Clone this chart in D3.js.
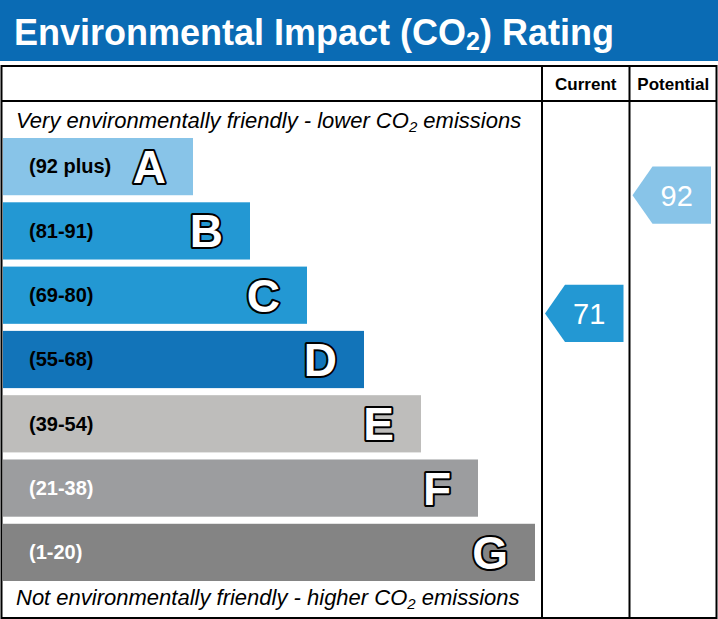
<!DOCTYPE html>
<head>
<title>Environmental Impact (CO2) Rating</title>
<meta charset="utf-8">
<style>
body { margin: 0; background: #fff; }
svg text { font-family: "Liberation Sans", Arial, sans-serif; }
.title { font-size: 36px; font-weight: bold; fill: #fff; }
.colhead { font-size: 17px; font-weight: bold; fill: #000; }
.note { font-size: 22px; font-style: italic; fill: #000; }
.range { font-size: 20px; font-weight: bold; }
.letter { font-size: 46px; font-weight: bold; fill: #fff; stroke: #000; stroke-width: 4px; paint-order: stroke; stroke-linejoin: round; }
.score { font-size: 29px; fill: #fff; }
.frame { fill: none; stroke: #000; stroke-width: 2px; }
</style>
</head>
<body>
<svg width="718" height="619"></svg>
<script src="https://cdn.jsdelivr.net/npm/d3@7"></script>
<script>
// rating bands, top (best) to bottom (worst)
const bands = ["A", "B", "C", "D", "E", "F", "G"];
const rangeLabels = ["(92 plus)", "(81-91)", "(69-80)", "(55-68)", "(39-54)", "(21-38)", "(1-20)"];
const bandMin = [92, 81, 69, 55, 39, 21, 1];
const bandMax = [100, 91, 80, 68, 54, 38, 20];
const bandColors = ["#88c4e8", "#2398d3", "#2398d3", "#1274b9", "#bebdbb", "#9c9d9f", "#848484"];
const rangeColors = ["#000", "#000", "#000", "#000", "#000", "#fff", "#fff"];
const columns = ["Current", "Potential"];
const ratings = [71, 92];

const svg = d3.select("svg"),
    W = +svg.attr("width"),
    H = +svg.attr("height");

const tableTop = 66, headRow = 101, tableBottom = 618, colLeft = 542;

// header banner
svg.append("rect")
    .attr("width", W).attr("height", 61)
    .attr("fill", "#0a6bb4");
const title = svg.append("text").attr("class", "title")
    .attr("x", 14).attr("y", 45);
title.append("tspan").text("Environmental Impact (CO");
title.append("tspan").attr("font-size", "25px").attr("dy", 5).text("2");
title.append("tspan").attr("dy", -5).text(") Rating");

// scales
const y = d3.scaleBand()
    .domain(bands)
    .range([138, 581])
    .paddingInner(0.11);

const barEnd = d3.scaleLinear()
    .domain([0, bands.length - 1])
    .range([193, 535]);

const x = d3.scaleBand()
    .domain(columns)
    .range([colLeft, W - 1]);

// where a rating sits: linear inside its own band
function ratingY(v) {
  const i = bandMin.findIndex(m => v >= m);
  const f = (bandMax[i] - v) / (bandMax[i] - bandMin[i]);
  return y(bands[i]) + f * y.bandwidth();
}

// bars
const bar = svg.append("g").selectAll("g")
  .data(bands)
  .join("g")
    .attr("transform", d => "translate(0," + y(d) + ")");

bar.append("rect")
    .attr("x", 3)
    .attr("width", (d, i) => barEnd(i) - 3)
    .attr("height", y.bandwidth())
    .attr("fill", (d, i) => bandColors[i]);

bar.append("text")
    .attr("class", "range")
    .attr("x", 29)
    .attr("y", y.bandwidth() / 2)
    .attr("dy", "0.34em")
    .attr("fill", (d, i) => rangeColors[i])
    .text((d, i) => rangeLabels[i]);

bar.append("text")
    .attr("class", "letter")
    .attr("x", (d, i) => barEnd(i) - 27)
    .attr("y", y.bandwidth() / 2)
    .attr("dy", "0.36em")
    .attr("text-anchor", "end")
    .text(d => d);

// notes top and bottom
function note(yy, a, b) {
  const t = svg.append("text").attr("class", "note").attr("x", 16).attr("y", yy);
  t.append("tspan").text(a);
  t.append("tspan").attr("font-size", "15px").attr("dy", 4).text("2");
  t.append("tspan").attr("dy", -4).text(b);
}
note(128, "Very environmentally friendly - lower CO", " emissions");
note(605, "Not environmentally friendly - higher CO", " emissions");

// rating arrows
const tip = 20;
const arrow = svg.append("g").selectAll("g")
  .data(columns)
  .join("g")
    .attr("transform", (d, i) => "translate(" + (x(d) + 3) + "," + ratingY(ratings[i]) + ")");

arrow.append("path")
    .attr("d", d => {
      const w = x.bandwidth() - 9, h = y.bandwidth() / 2;
      return "M0,0L" + tip + "," + (-h) + "H" + w + "V" + h + "H" + tip + "Z";
    })
    .attr("fill", (d, i) => bandColors[bandMin.findIndex(m => ratings[i] >= m)]);

arrow.append("text")
    .attr("class", "score")
    .attr("x", (x.bandwidth() - 9 + tip / 2) / 2)
    .attr("dy", "0.36em")
    .attr("text-anchor", "middle")
    .text((d, i) => ratings[i]);

// table frame
const frame = svg.append("g");
frame.append("rect").attr("class", "frame")
    .attr("x", 1.5).attr("y", tableTop)
    .attr("width", W - 3).attr("height", tableBottom - tableTop);
frame.append("line").attr("class", "frame")
    .attr("x1", 1).attr("x2", W - 1)
    .attr("y1", headRow).attr("y2", headRow);
frame.selectAll(".col")
  .data(columns)
  .join("line").attr("class", "frame col")
    .attr("x1", d => x(d)).attr("x2", d => x(d))
    .attr("y1", tableTop).attr("y2", tableBottom);

frame.selectAll(".colhead")
  .data(columns)
  .join("text").attr("class", "colhead")
    .attr("x", d => x(d) + x.bandwidth() / 2)
    .attr("y", 90)
    .attr("text-anchor", "middle")
    .text(d => d);
</script>
</body>
